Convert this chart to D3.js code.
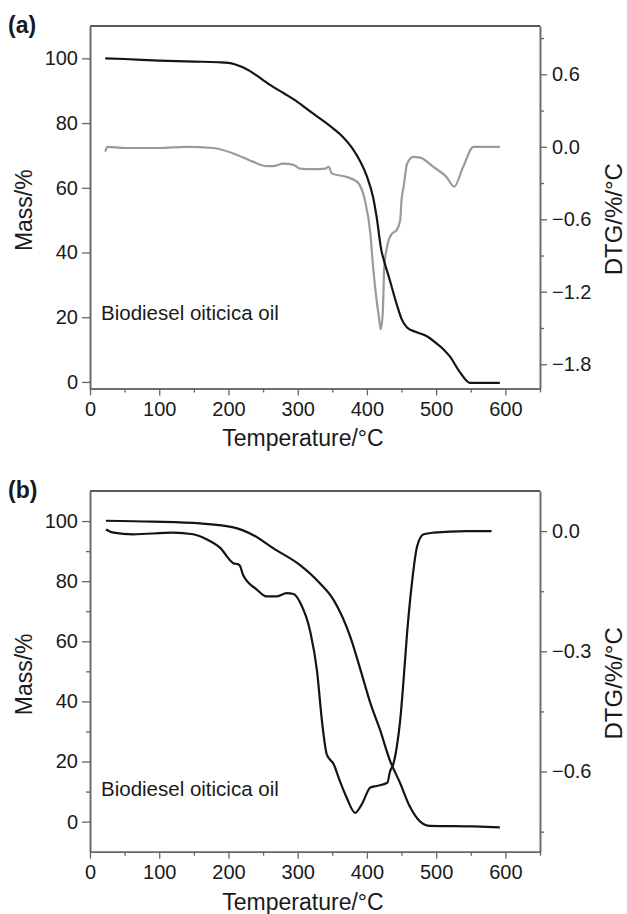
<!DOCTYPE html>
<html>
<head>
<meta charset="utf-8">
<script src="https://cdn.jsdelivr.net/npm/d3@7"></script>
<style>
  html, body { margin: 0; padding: 0; background: #fff; }
  svg { display: block; }
  text { font-family: "Liberation Sans", Arial, Helvetica, sans-serif; fill: #1a1a1a; }
</style>
</head>
<body>
<svg id="chart" width="627" height="914"></svg>
<script>
// ---------- Panel (a) data ----------
const massA_T = [22, 50, 100, 150, 185, 200, 210, 220, 230, 240, 250, 260, 280, 300, 320, 340, 352, 365, 378, 390, 400, 409, 414, 421, 424, 433, 443, 450, 458, 470, 486, 500, 510, 520, 535, 549, 592];
const massA   = [100, 99.8, 99.3, 99.0, 98.8, 98.6, 98.1, 97.3, 96.2, 94.8, 93.3, 91.8, 89.2, 86.5, 83.3, 80.2, 78.2, 75.8, 72.5, 68.3, 63.5, 57, 51, 40.5, 38, 31.5, 24, 19.5, 16.8, 15.5, 14.2, 12, 10.2, 7.8, 2.8, -0.3, -0.3];

const dtgA_T = [22, 25, 50, 100, 140, 178, 207, 236, 255, 264, 279, 294, 303, 323, 340, 345, 349, 371, 386, 397, 405, 409, 414, 418, 420, 423, 425, 429, 436, 443, 448, 450, 453, 458, 467, 477, 496, 515, 526, 539, 554, 592];
const dtgA   = [-0.04, 0.0, -0.01, -0.01, 0.0, -0.01, -0.055, -0.125, -0.16, -0.16, -0.14, -0.15, -0.18, -0.185, -0.18, -0.165, -0.22, -0.25, -0.29, -0.44, -0.72, -1.0, -1.27, -1.44, -1.51, -1.36, -1.0, -0.83, -0.72, -0.69, -0.61, -0.44, -0.33, -0.14, -0.083, -0.09, -0.166, -0.25, -0.33, -0.166, 0, 0];

// ---------- Panel (b) data ----------
const massB_T = [23, 91, 159, 207, 236, 265, 303, 332, 352, 376, 392, 405, 419, 433, 448, 462, 477, 491, 554, 592];
const massB   = [100.1, 99.8, 99.2, 97.9, 95.3, 90.9, 85.4, 79.3, 73.7, 61.5, 49.5, 39.4, 30.5, 20.5, 12.8, 5.0, 0, -1.4, -1.6, -1.9];

const dtgB_T = [23, 34, 62, 120, 149, 169, 188, 207, 214, 217, 221, 241, 255, 270, 284, 294, 303.5, 318, 328, 335, 342, 352, 361, 371, 383, 392.5, 405, 414, 429.5, 433.5, 438, 443, 448, 453, 458, 465, 472.5, 482, 496, 544, 580];
const dtgB   = [0.004, -0.004, -0.008, -0.004, -0.008, -0.021, -0.042, -0.08, -0.083, -0.088, -0.109, -0.146, -0.163, -0.163, -0.155, -0.157, -0.178, -0.25, -0.35, -0.473, -0.557, -0.582, -0.624, -0.666, -0.703, -0.682, -0.64, -0.636, -0.628, -0.599, -0.582, -0.54, -0.473, -0.37, -0.255, -0.13, -0.038, -0.008, -0.004, 0, 0];

// ---------- Tick values ----------
const xMajor = [0, 100, 200, 300, 400, 500, 600];
const xMinor = [50, 150, 250, 350, 450, 550, 650];
const yA_major = [0, 20, 40, 60, 80, 100];
const yA_minor = [];
const rA_major = [-1.8, -1.2, -0.6, 0.0, 0.6];
const rA_minor = [-1.5, -0.9, -0.3, 0.3, 0.9];
const yB_major = [0, 20, 40, 60, 80, 100];
const yB_minor = [10, 30, 50, 70, 90];
const rB_major = [-0.6, -0.3, 0.0];
const rB_minor = [-0.75, -0.45, -0.15];

const label = "Biodiesel oiticica oil";

const svg = d3.select("#chart");
const fmtR = d3.format(".1f");

function panel(cfg) {
  const x = d3.scaleLinear().domain([0, 650]).range([90, 540]);
  const yL = d3.scaleLinear().domain(cfg.yDom).range([cfg.bottom, cfg.top]);
  const yR = d3.scaleLinear().domain(cfg.rDom).range([cfg.bottom, cfg.top]);
  const g = svg.append("g");

  // frame top
  g.append("line").attr("x1", 90).attr("x2", 540).attr("y1", cfg.top).attr("y2", cfg.top)
    .attr("stroke", "#222").attr("stroke-width", 1.5);

  const axStyle = sel => {
    sel.selectAll("path.domain").attr("stroke", "#666").attr("stroke-width", 1.5);
    sel.selectAll(".tick line").attr("stroke", "#666").attr("stroke-width", 1.3);
    sel.selectAll("text").attr("font-size", 20).attr("fill", "#1a1a1a")
      .attr("font-family", '"Liberation Sans", Arial, sans-serif');
  };

  // minor ticks
  g.append("g").attr("transform", `translate(0,${cfg.bottom})`)
    .call(d3.axisBottom(x).tickValues(xMinor).tickSize(4).tickSizeOuter(0).tickFormat(""))
    .call(axStyle);
  g.append("g").attr("transform", `translate(90,0)`)
    .call(d3.axisLeft(yL).tickValues(cfg.yMinor).tickSize(4).tickSizeOuter(0).tickFormat(""))
    .call(axStyle);
  g.append("g").attr("transform", `translate(540,0)`)
    .call(d3.axisRight(yR).tickValues(cfg.rMinor).tickSize(4).tickSizeOuter(0).tickFormat(""))
    .call(axStyle);

  // major axes
  g.append("g").attr("transform", `translate(0,${cfg.bottom})`)
    .call(d3.axisBottom(x).tickValues(xMajor).tickSize(7).tickSizeOuter(0).tickPadding(6).tickFormat(d3.format("d")))
    .call(axStyle);
  g.append("g").attr("transform", `translate(90,0)`)
    .call(d3.axisLeft(yL).tickValues(cfg.yMajor).tickSize(8).tickSizeOuter(0).tickPadding(4).tickFormat(d3.format("d")))
    .call(axStyle);
  g.append("g").attr("transform", `translate(540,0)`)
    .call(d3.axisRight(yR).tickValues(cfg.rMajor).tickSize(7).tickSizeOuter(0).tickPadding(5).tickFormat(fmtR))
    .call(axStyle);

  // curves
  const lineL = d3.line().x(d => x(d[0])).y(d => yL(d[1])).curve(d3.curveMonotoneX);
  const lineR = d3.line().x(d => x(d[0])).y(d => yR(d[1])).curve(d3.curveMonotoneX);

  g.append("path").datum(d3.zip(cfg.dtgT, cfg.dtg)).attr("d", lineR)
    .attr("fill", "none").attr("stroke", cfg.dtgColor).attr("stroke-width", 2.2)
    .attr("stroke-linejoin", "round");
  g.append("path").datum(d3.zip(cfg.massT, cfg.mass)).attr("d", lineL)
    .attr("fill", "none").attr("stroke", "#141414").attr("stroke-width", 2.2)
    .attr("stroke-linejoin", "round");

  // texts
  g.append("text").attr("x", 8).attr("y", cfg.top + 7).attr("font-size", 23).attr("font-weight", "bold")
    .text(cfg.letter);
  g.append("text").attr("x", 101).attr("y", cfg.annY).attr("font-size", 20.5).text(label);
  g.append("text").attr("x", 303).attr("y", cfg.bottom + 58).attr("font-size", 23)
    .attr("text-anchor", "middle").text("Temperature/°C");
  const mid = (cfg.top + cfg.bottom) / 2;
  g.append("text").attr("transform", `translate(32,${mid + 3}) rotate(-90)`)
    .attr("font-size", 23).attr("text-anchor", "middle").text("Mass/%");
  g.append("text").attr("transform", `translate(622,${mid + 12}) rotate(-90)`)
    .attr("font-size", 24).attr("text-anchor", "middle").text("DTG/%/°C");
}

panel({
  letter: "(a)", top: 26, bottom: 388.4, yDom: [-2, 110], rDom: [-2, 1],
  yMajor: yA_major, yMinor: yA_minor, rMajor: rA_major, rMinor: rA_minor,
  massT: massA_T, mass: massA, dtgT: dtgA_T, dtg: dtgA, dtgColor: "#9a9a9a", annY: 320
});
panel({
  letter: "(b)", top: 491, bottom: 851.7, yDom: [-10, 110], rDom: [-0.8, 0.1],
  yMajor: yB_major, yMinor: yB_minor, rMajor: rB_major, rMinor: rB_minor,
  massT: massB_T, mass: massB, dtgT: dtgB_T, dtg: dtgB, dtgColor: "#141414", annY: 796
});
</script>
</body>
</html>
